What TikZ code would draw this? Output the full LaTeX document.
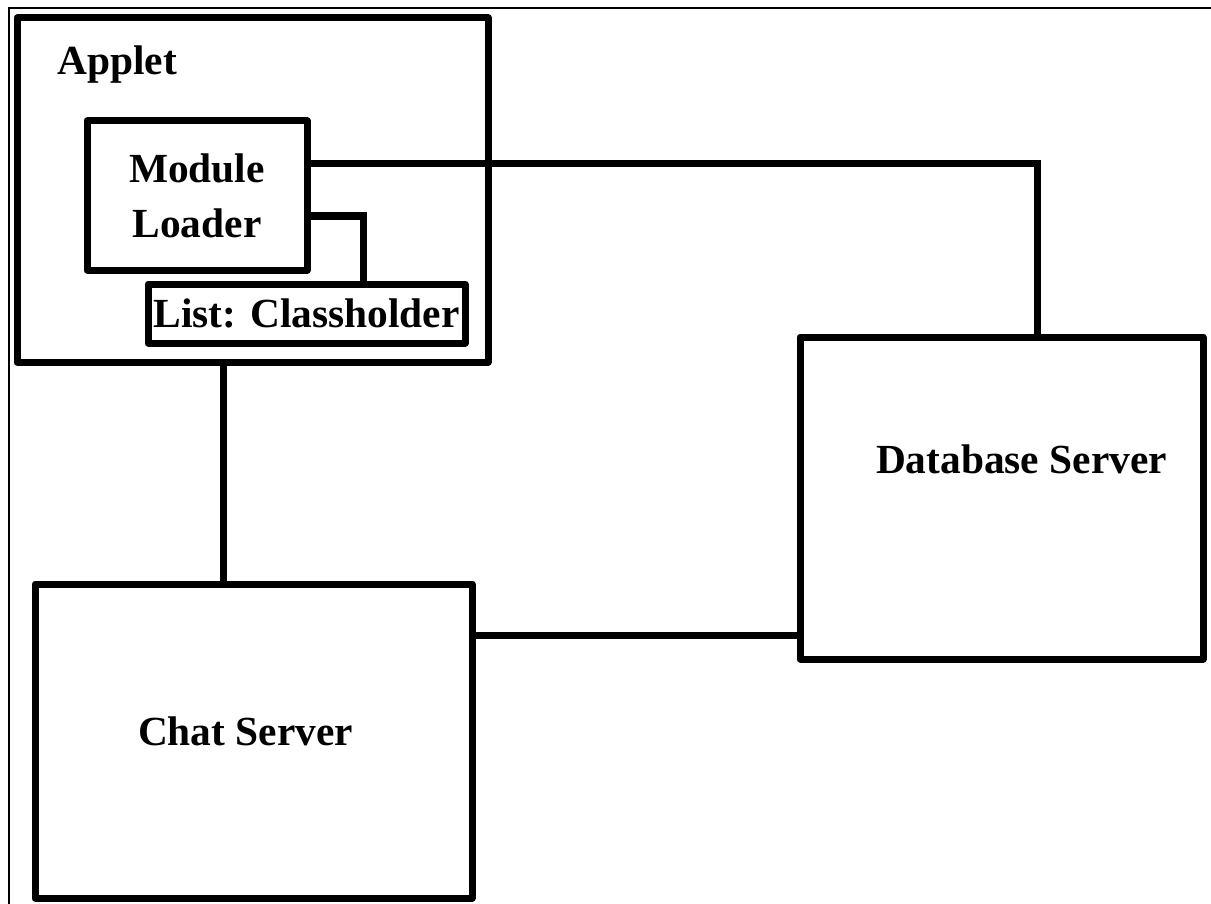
\documentclass[tikz,border=0pt]{standalone}
\usepackage{fontspec}
\setmainfont{Liberation Serif}
\usetikzlibrary{positioning, calc}

\begin{document}
\begin{tikzpicture}[
    x=0.5pt, y=-0.5pt,
    box/.style={rectangle, draw, line width=3.5pt, line join=round, inner sep=0pt},
    wire/.style={line width=3.5pt},
    frame/.style={line width=1.2pt},
    every node/.style={font=\fontsize{20.7}{27.5}\selectfont\bfseries}
]
\useasboundingbox (0,0) rectangle (1211,904);

% Page frame
\draw[frame] (9,904) -- (9,8) -- (1211,8);

% Applet container
\node[box, minimum width=235.5pt, minimum height=172pt] (applet) at (252.5,190) {};
\node[anchor=base west, inner sep=0pt] (appletlbl) at (57,75) {Applet};

% Module loader and class holder
\node[box, minimum width=110pt, minimum height=74.5pt, align=center] (loader) at (197,195.5) {Module\\Loader};
\node[box, minimum width=158.5pt, minimum height=29.5pt] (holder) at (306.5,313.5) {List: Classholder};

% Servers
\node[box, minimum width=218.5pt, minimum height=157pt] (chat) at (253.5,741) {};
\node[anchor=base, inner sep=0pt] (chatlbl) at (245.5,745) {Chat Server};

\node[box, minimum width=201.5pt, minimum height=161pt] (db) at (1001.5,498) {};
\node[anchor=base, inner sep=0pt] (dblbl) at (1021.5,473) {Database Server};

% Connections
\draw[wire] (loader.east |- 0,164) -| (db.north -| 1037,0);
\draw[wire] (loader.east |- 0,216) -| (holder.north -| 363,0);
\draw[wire] (applet.south -| 223,0) -- (chat.north -| 223,0);
\draw[wire] (chat.east |- 0,635) -- (db.west |- 0,635);

\end{tikzpicture}
\end{document}
